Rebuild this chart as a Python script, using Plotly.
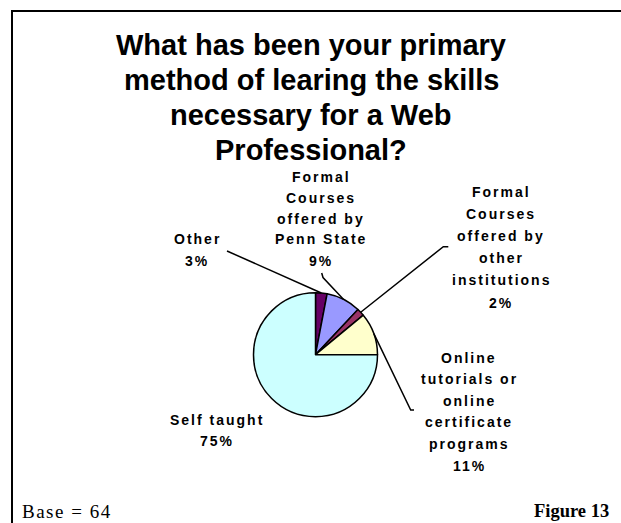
import math
import plotly.graph_objects as go

W, H = 621, 523

# Survey answers (base = 64 respondents), in slice order clockwise from 12 o'clock
categories = [
    "Other",
    "Formal Courses offered by Penn State",
    "Formal Courses offered by other institutions",
    "Online tutorials or online certificate programs",
    "Self taught",
]
shares = [3, 9, 2, 11, 75]
slice_colors = ["#660066", "#9999FF", "#993366", "#FFFFCC", "#CCFFFF"]
label_words = [
    ["Other"],
    ["Formal", "Courses", "offered by", "Penn State"],
    ["Formal", "Courses", "offered by", "other", "institutions"],
    ["Online", "tutorials or", "online", "certificate", "programs"],
    ["Self taught"],
]

title_lines = [
    "What has been your primary",
    "method of learing the skills",
    "necessary for a Web",
    "Professional?",
]
base_note = "Base = 64"
figure_note = "Figure 13"

# ---- layout (pixel space, origin top-left) ----
CX, CY, R = 315.5, 354.7, 62.0
TITLE_X, TITLE_Y0, TITLE_STEP = 311, 45.0, 35.0
label_pos = [  # centre x, first-line y, line step
    (197, 239.5, 21.5),
    (321, 176.5, 21.0),
    (501, 191.5, 22.2),
    (469, 357.5, 21.6),
    (217, 420.0, 21.0),
]
leader_tails = [  # points from label toward the slice edge
    [(227, 251)],
    [(321.7, 273), (323, 277.5)],
    [(448.3, 246.7), (443.3, 246.7)],
    [(414, 410), (410.7, 410)],
    None,
]


def px(x):
    return x / W


def py(y):
    return 1 - y / H


fig = go.Figure()

fig.add_trace(go.Pie(
    labels=categories,
    values=shares,
    sort=False,
    direction="clockwise",
    rotation=0,
    marker=dict(colors=slice_colors, line=dict(color="black", width=1.5)),
    textinfo="none",
    hoverinfo="label+percent",
    showlegend=False,
    domain=dict(x=[px(CX - R), px(CX + R)], y=[py(CY + R), py(CY - R)]),
))

annotations = []
shapes = []

# title, one annotation per line
for k, line in enumerate(title_lines):
    annotations.append(dict(
        text=f"<b>{line}</b>",
        x=px(TITLE_X), y=py(TITLE_Y0 + k * TITLE_STEP), xref="paper", yref="paper",
        xanchor="center", yanchor="middle", showarrow=False,
        font=dict(family="Liberation Sans, Arial", size=29, color="black"),
    ))

# slice labels, one annotation per line so the spacing can be set
lab_font = dict(family="Liberation Sans, Arial", size=14, color="black")
for words, v, (lx, ly, step) in zip(label_words, shares, label_pos):
    lines = words + [f"{v}%"]
    for k, line in enumerate(lines):
        annotations.append(dict(
            text=f'<b><span style="letter-spacing:2px">{line}</span></b>',
            x=px(lx), y=py(ly + k * step), xref="paper", yref="paper",
            xanchor="center", yanchor="middle", showarrow=False,
            font=lab_font,
        ))

# leader lines from labels to the middle of each slice's arc
total = sum(shares)
cum = 0
for v, tail in zip(shares, leader_tails):
    mid = 2 * math.pi * (cum + v / 2) / total
    cum += v
    if not tail:
        continue
    ex, ey = CX + R * math.sin(mid), CY - R * math.cos(mid)
    pts = tail + [(ex, ey)]
    path = "M " + " L ".join(f"{px(x):.5f},{py(y):.5f}" for x, y in pts)
    shapes.append(dict(type="path", path=path, xref="paper", yref="paper",
                       line=dict(color="black", width=1.5)))

# frame (left and top edges)
shapes.append(dict(type="line", xref="paper", yref="paper",
                   x0=px(12), y0=py(11), x1=px(12), y1=py(H + 2),
                   line=dict(color="black", width=2)))
shapes.append(dict(type="line", xref="paper", yref="paper",
                   x0=px(11), y0=py(11), x1=px(W + 2), y1=py(11),
                   line=dict(color="black", width=2)))

# footer notes
annotations.append(dict(
    text=f'<span style="letter-spacing:1.5px">{base_note}</span>',
    x=px(20), y=py(511), xref="paper", yref="paper",
    xanchor="left", yanchor="middle", showarrow=False,
    font=dict(family="Liberation Serif, Times New Roman", size=19, color="black"),
))
annotations.append(dict(
    text=f"<b>{figure_note}</b>", x=px(611), y=py(511), xref="paper", yref="paper",
    xanchor="right", yanchor="middle", showarrow=False,
    font=dict(family="Liberation Serif, Times New Roman", size=18.5, color="black"),
))

fig.update_layout(
    width=W, height=H,
    margin=dict(l=0, r=0, t=0, b=0),
    paper_bgcolor="white", plot_bgcolor="white",
    annotations=annotations, shapes=shapes,
)

fig.write_html("out.html")
